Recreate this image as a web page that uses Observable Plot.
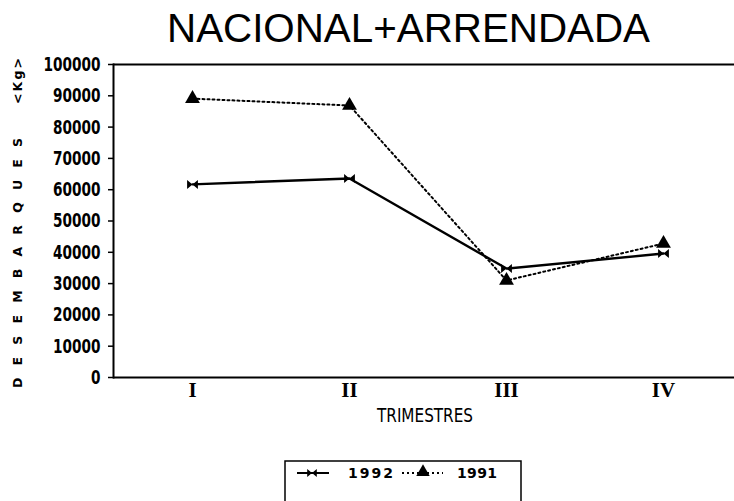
<!DOCTYPE html>
<html>
<head>
<meta charset="utf-8">
<script src="https://cdn.jsdelivr.net/npm/d3@7"></script>
<script src="https://cdn.jsdelivr.net/npm/@observablehq/plot@0.6"></script>
<style>
  html, body { margin: 0; padding: 0; background: #fff; }
  #chart { width: 734px; height: 501px; }
</style>
</head>
<body>
<div id="chart"></div>
<script>
// ---- data ----
const quarters = ["I", "II", "III", "IV"];
const values1992 = [61700, 63600, 34800, 39600];
const values1991 = [89100, 86900, 31000, 42800];
const yTicks = [0, 10000, 20000, 30000, 40000, 50000, 60000, 70000, 80000, 90000, 100000];
const seriesNames = ["1992", "1991"];
const titleText = "NACIONAL+ARRENDADA";
const xLabelText = "TRIMESTRES";
const yLabelMain = "DESEMBARQUES";
const yLabelUnit = "<Kg>";

const rows1992 = quarters.map((q, i) => ({quarter: q, value: values1992[i], serie: seriesNames[0]}));
const rows1991 = quarters.map((q, i) => ({quarter: q, value: values1991[i], serie: seriesNames[1]}));

// bow-tie marker (two opposing triangles)
const bowtie = {
  draw(ctx, size) {
    const r = Math.sqrt(size / Math.PI);
    const w = r * 1.2, h = r;
    ctx.moveTo(-w, -h); ctx.lineTo(0, 0); ctx.lineTo(-w, h); ctx.closePath();
    ctx.moveTo(w, -h); ctx.lineTo(0, 0); ctx.lineTo(w, h); ctx.closePath();
  }
};

const tickFont = "'Liberation Sans Narrow', 'DejaVu Sans Condensed', sans-serif";

const plot = Plot.plot({
  width: 734,
  height: 501,
  marginLeft: 113,
  marginRight: 0,
  marginTop: 64,
  marginBottom: 124,
  style: {background: "#fff", color: "#000", overflow: "visible"},
  x: {type: "point", domain: quarters, range: [192, 663], padding: 0, axis: null},
  y: {domain: [0, 100000], range: [377, 64], axis: null},
  marks: [
    Plot.ruleY([0, 100000], {stroke: "#000", strokeWidth: 2}),
    Plot.frame({anchor: "left", stroke: "#000", strokeWidth: 2}),
    Plot.axisY(yTicks, {
      tickSize: 5, tickPadding: 8, strokeWidth: 1.5,
      tickFormat: d => String(d),
      fontSize: 20, fontFamily: tickFont, fontWeight: "bold", label: null
    }),
    Plot.axisX(quarters, {
      tickSize: 0, tickPadding: 5,
      fontSize: 21, fontFamily: "'Liberation Serif', serif", fontWeight: "bold", label: null
    }),
    Plot.line(rows1992, {x: "quarter", y: "value", stroke: "#000", strokeWidth: 2.4}),
    Plot.line(rows1991, {x: "quarter", y: "value", stroke: "#000", strokeWidth: 2, strokeDasharray: "2,3"}),
    Plot.dot(rows1992, {x: "quarter", y: "value", symbol: bowtie, r: 4.5, fill: "#000", stroke: "none"}),
    Plot.dot(rows1991, {x: "quarter", y: "value", symbol: "triangle", r: 5.5, fill: "#000", stroke: "none"})
  ]
});

document.getElementById("chart").appendChild(plot);

const svg = d3.select(plot);

// condense the y tick labels to the narrow look of the original
svg.selectAll('g[aria-label="y-axis tick label"] text').each(function () {
  const s = this.textContent || "";
  d3.select(this).attr("textLength", 9.5 * s.length).attr("lengthAdjust", "spacingAndGlyphs");
});

// ---- annotations: title, axis titles, legend ----
const g = svg.append("g").attr("class", "annotations").attr("text-anchor", "start");

g.append("text")
  .attr("x", 167).attr("y", 42)
  .attr("text-anchor", "start")
  .attr("textLength", 483).attr("lengthAdjust", "spacingAndGlyphs")
  .attr("font-family", "'Liberation Sans', Arial, sans-serif")
  .attr("font-size", 40)
  .attr("fill", "#000")
  .text(titleText);

g.append("text")
  .attr("x", 377).attr("y", 422)
  .attr("text-anchor", "start")
  .attr("textLength", 96).attr("lengthAdjust", "spacingAndGlyphs")
  .attr("font-family", tickFont)
  .attr("font-size", 20)
  .attr("fill", "#000")
  .text(xLabelText);

g.append("text")
  .attr("transform", "translate(22,388) rotate(-90)")
  .attr("text-anchor", "start")
  .attr("textLength", 250).attr("lengthAdjust", "spacing")
  .attr("font-family", "'DejaVu Sans', sans-serif")
  .attr("font-weight", "bold")
  .attr("font-size", 12.5)
  .attr("fill", "#000")
  .text(yLabelMain);

g.append("text")
  .attr("transform", "translate(22,104) rotate(-90)")
  .attr("text-anchor", "start")
  .attr("textLength", 46).attr("lengthAdjust", "spacing")
  .attr("font-family", "'DejaVu Sans', sans-serif")
  .attr("font-weight", "bold")
  .attr("font-size", 12.5)
  .attr("fill", "#000")
  .text(yLabelUnit);

// legend
const lg = g.append("g").attr("class", "legend");
lg.append("rect")
  .attr("x", 285).attr("y", 461).attr("width", 236).attr("height", 50)
  .attr("fill", "none").attr("stroke", "#000").attr("stroke-width", 1.5);
lg.append("line").attr("x1", 297).attr("x2", 329).attr("y1", 473).attr("y2", 473)
  .attr("stroke", "#000").attr("stroke-width", 2);
lg.append("path").attr("transform", "translate(312,473)")
  .attr("d", d3.symbol(bowtie, 4 * 4 * Math.PI)()).attr("fill", "#000");
lg.append("text").attr("x", 348).attr("y", 478)
  .attr("text-anchor", "start")
  .attr("textLength", 45).attr("lengthAdjust", "spacing")
  .attr("font-family", "'DejaVu Sans', sans-serif").attr("font-weight", "bold").attr("font-size", 14)
  .attr("fill", "#000").text(seriesNames[0]);
lg.append("line").attr("x1", 402).attr("x2", 443).attr("y1", 473).attr("y2", 473)
  .attr("stroke", "#000").attr("stroke-width", 2).attr("stroke-dasharray", "2,3");
lg.append("path").attr("transform", "translate(423,472)")
  .attr("d", d3.symbol(d3.symbolTriangle, 5 * 5 * Math.PI)()).attr("fill", "#000");
lg.append("text").attr("x", 457).attr("y", 478)
  .attr("text-anchor", "start")
  .attr("textLength", 40).attr("lengthAdjust", "spacing")
  .attr("font-family", "'DejaVu Sans', sans-serif").attr("font-weight", "bold").attr("font-size", 14)
  .attr("fill", "#000").text(seriesNames[1]);
</script>
</body>
</html>
